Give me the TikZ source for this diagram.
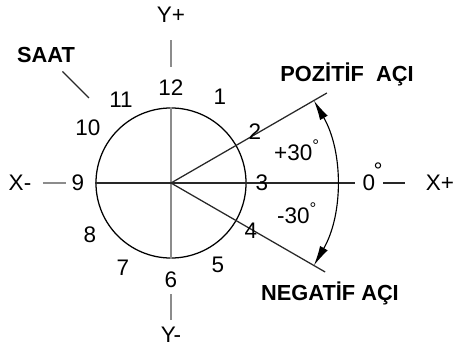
\documentclass[tikz,border=0pt]{standalone}
\usepackage{fontspec}
\setmainfont{Liberation Sans}
\usetikzlibrary{arrows.meta, positioning, calc}
\definecolor{cAxis}{RGB}{140,140,140}
\definecolor{cLine}{RGB}{40,40,40}
\tikzset{
    hour/.style     ={font=\fontsize{16}{18}\selectfont, inner sep=1pt},
    axislabel/.style={font=\fontsize{16}{18}\selectfont, inner sep=1pt},
    titlelabel/.style={font=\fontsize{15.5}{18}\selectfont\bfseries, inner sep=1pt},
    axistick/.style ={draw=cAxis, line width=0.9pt},
    ray/.style      ={draw=cLine, line width=0.9pt},
    anglearrow/.style={{Latex[length=5mm,width=2.2mm]}-{Latex[length=5mm,width=2.2mm]}, line width=0.8pt},
}

\begin{document}
\begin{tikzpicture}[x=0.025cm, y=0.025cm]
                \useasboundingbox (-171,-166) rectangle (296,183);
                \coordinate (o) at (0,0);
                \node[circle, draw, line width=0.9pt, minimum size=3.75cm, inner sep=0pt] (clock) at (o){};
                % axes inside the dial
                \draw[cAxis, line width=0.9pt] (clock.north) -- (clock.south);
                \coordinate (xend) at (184,0);
                \draw[ray] (clock.west) -- (xend);
                \coordinate (pos) at (30:180);
                \coordinate (neg) at (-30:178);
                \draw[ray] (o) -- (pos);
                \draw[ray] (o) -- (neg);
                % hours
                \node[hour] (n12) at (0,95){12};
                \node[hour] (n1) at (49,86){1};
                \node[hour] (n2) at (84,51){2};
                \node[hour] (n3) at (91,0){3};
                \node[hour] (n4) at (80,-48){4};
                \node[hour] (n5) at (47,-82){5};
                \node[hour] (n6) at (0,-97){6};
                \node[hour] (n7) at (-48,-85){7};
                \node[hour] (n8) at (-81,-52){8};
                \node[hour] (n9) at (-93,0){9};
                \node[hour] (n10) at (-83,55){10};
                \node[hour] (n11) at (-50,83){11};
                % axis names
                \node[axislabel] (yplus) at (0,168){Y+};
                \node[axislabel] (yminus) at (0,-152){Y-};
                \node[axislabel] (xminus) at (-151,0){X-};
                \node[axislabel] (xplus) at (269,0){X+};
                \node[axislabel] (zero) at (198,0){0};
                \node[font=\fontsize{16}{16}\selectfont, inner sep=0pt] (deg) at (207,12){°};
                \coordinate (ytop) at (0,143);
                \coordinate (ytopin) at (0,116);
                \coordinate (ybot) at (0,-137);
                \coordinate (ybotin) at (0,-111);
                \coordinate (xleft) at (-128,0);
                \coordinate (xleftin) at (-105,0);
                \coordinate (xright) at (234,0);
                \coordinate (xrightin) at (212,0);
                \draw[axistick] (ytop) -- (ytopin);
                \draw[axistick] (ybot) -- (ybotin);
                \draw[axistick] (xleft) -- (xleftin);
                \draw[axistick, draw=cLine] (xrightin) -- (xright);
                % angle
                \coordinate (arcneg) at (-30:165);
                \draw[anglearrow] (arcneg) arc[start angle=-30, end angle=30, radius=165];
                \node[hour] (plus30) at (126,33){+30\textsuperscript{\fontsize{12}{12}\selectfont °}};
                \node[hour] (minus30) at (126,-30){-30\textsuperscript{\fontsize{12}{12}\selectfont °}};
                % titles
                \node[titlelabel] (saat) at (-125,128){SAAT};
                \coordinate (saatend) at (-82,85);
                \draw[cLine, line width=0.8pt, shorten <=0.25cm] (saat) -- (saatend);
                \node[titlelabel] (pozitif) at (176,109){POZİTİF~~AÇI};
                \node[titlelabel] (negatif) at (159,-110){NEGATİF AÇI};
            \end{tikzpicture}
\end{document}
